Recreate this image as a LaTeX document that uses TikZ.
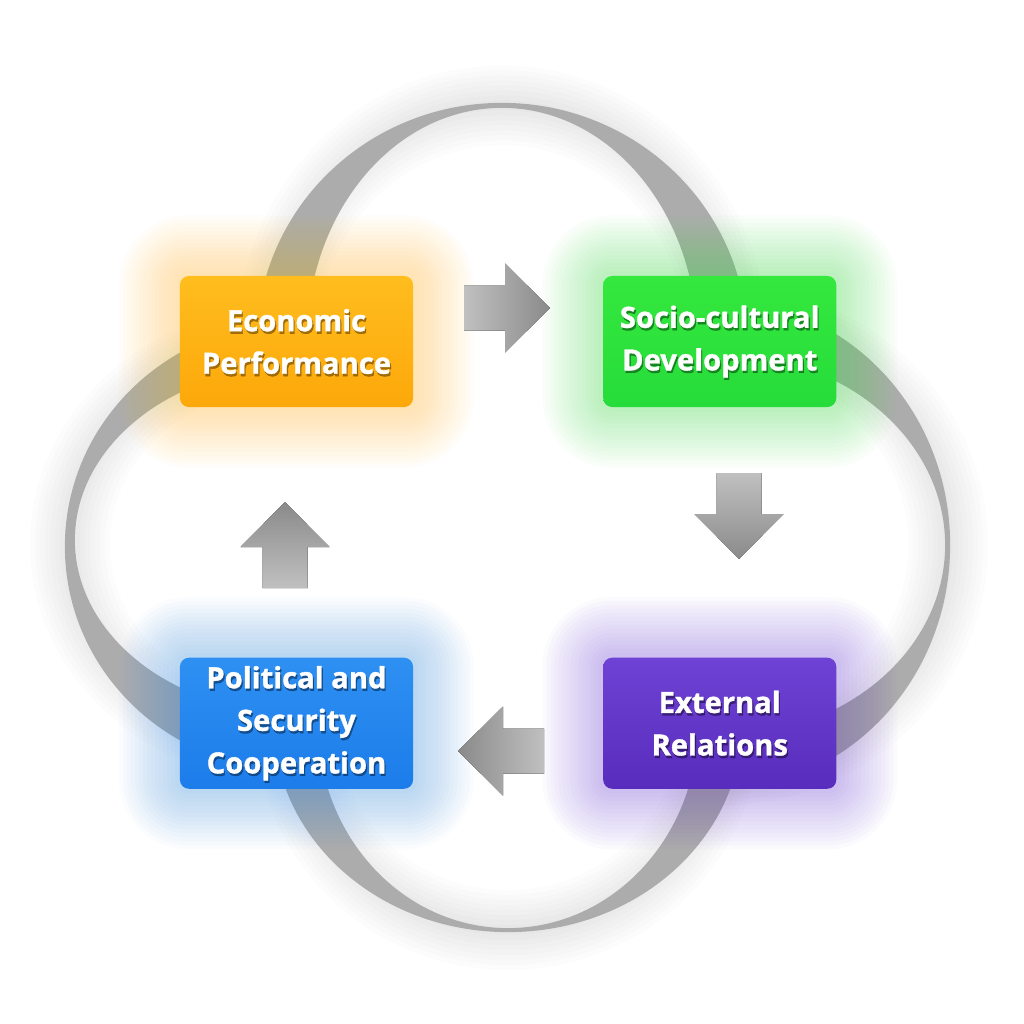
\documentclass[tikz,border=0pt]{standalone}
\usepackage{fontspec}
\setmainfont{Open Sans}[BoldFeatures={FakeBold=1.2}]
\usetikzlibrary{positioning}

\definecolor{econcol}{RGB}{255,189,30}
\definecolor{econdark}{RGB}{253,168,10}
\definecolor{sociocol}{RGB}{52,232,62}
\definecolor{sociodark}{RGB}{38,220,58}
\definecolor{polcol}{RGB}{46,144,242}
\definecolor{poldark}{RGB}{28,124,234}
\definecolor{extcol}{RGB}{110,66,212}
\definecolor{extdark}{RGB}{88,44,188}
\definecolor{ribbongray}{RGB}{172,172,172}
\definecolor{arrowlight}{RGB}{192,192,192}
\definecolor{arrowdark}{RGB}{138,138,138}

\pgfdeclarelayer{back}
\pgfdeclarelayer{glow}
\pgfsetlayers{back,glow,main}

\tikzset{
  stage/.style={rectangle, rounded corners=0.09cm, minimum width=2.33cm,
    minimum height=1.31cm, inner sep=0pt, align=center, text=white,
    font=\bfseries\fontsize{8.3}{12.1}\selectfont},
  shadowed/.style 2 args={path picture={
    \node[inner sep=0pt, align=center, text=#1, opacity=.65,
      font=\bfseries\fontsize{8.3}{12.1}\selectfont]
      at ([shift={(0.012cm,-0.024cm)}]path picture bounding box.center) {#2};}},
  ribbon/.style={fill=ribbongray},
  haze/.style={draw=black, opacity=0.01},
  pics/flowarrow/.style={code={
    \fill[#1] (-41,-22.5) -- (0,-22.5) -- (0,-44.5) -- (45,0) -- (0,44.5)
      -- (0,22.5) -- (-41,22.5) -- cycle;}}
}

\begin{document}
\begin{tikzpicture}[x=0.01cm,y=-0.01cm,node distance=3.815cm and 4.23cm,on grid]
\useasboundingbox (0,0) rectangle (1024,1024);

% the four stages
\node[stage, top color=econcol, bottom color=econdark,
  shadowed={econdark!45!black}{Economic\\Performance}] (econ) at (296.5,341.5)
  {Economic\\Performance};
\node[stage, top color=sociocol, bottom color=sociodark,
  shadowed={sociodark!40!black}{Socio-cultural\\Development}] (socio) [right=of econ]
  {Socio-cultural\\Development};
\node[stage, top color=polcol, bottom color=poldark,
  shadowed={poldark!40!black}{Political and\\Security\\Cooperation}] (polsec) [below=of econ]
  {Political and\\Security\\Cooperation};
\node[stage, top color=extcol, bottom color=extdark,
  shadowed={extdark!40!black}{External\\Relations}] (ext) [below=of socio]
  {External\\Relations};

% ribbons behind the boxes
\begin{pgfonlayer}{back}
  \fill[white] (0,0) rectangle (1024,1024);
  \begin{scope}
    \clip (0,0) rectangle (1024,341.5);
    \foreach \w in {10,20,...,80}
      \draw[haze, line width=\w*0.01cm] (502,341.5) ellipse [x radius=2.25cm, y radius=2.36cm];
    \fill[ribbon, even odd rule]
      (502,341.5) ellipse [x radius=2.45cm, y radius=2.385cm]
      (502,341.5) ellipse [x radius=1.95cm, y radius=2.335cm];
  \end{scope}
  \begin{scope}
    \clip (719.5,0) rectangle (1024,1024);
    \foreach \w in {10,20,...,80}
      \draw[haze, line width=\w*0.01cm] (720,545) ellipse [x radius=2.28cm, y radius=2.2cm];
    \fill[ribbon, even odd rule]
      (720,545) ellipse [x radius=2.30cm, y radius=2.44cm]
      (720,545) ellipse [x radius=2.25cm, y radius=1.91cm];
  \end{scope}
  \begin{scope}
    \clip (0,723) rectangle (1024,1024);
    \foreach \w in {10,20,...,80}
      \draw[haze, line width=\w*0.01cm] (508,723) ellipse [x radius=2.12cm, y radius=2.07cm];
    \fill[ribbon, even odd rule]
      (508,723) ellipse [x radius=2.34cm, y radius=2.09cm]
      (508,723) ellipse [x radius=1.90cm, y radius=2.05cm];
  \end{scope}
  \begin{scope}
    \clip (0,0) rectangle (296.5,1024);
    \foreach \w in {10,20,...,80}
      \draw[haze, line width=\w*0.01cm] (296,544) ellipse [x radius=2.26cm, y radius=2.0cm];
    \fill[ribbon, even odd rule]
      (296,546.5) ellipse [x radius=2.31cm, y radius=2.24cm]
      (296,540) ellipse [x radius=2.21cm, y radius=1.73cm];
  \end{scope}
\end{pgfonlayer}

% soft coloured glow round each box
\begin{pgfonlayer}{glow}
  \foreach \b/\c in {econ/econcol, socio/sociocol, polsec/polcol, ext/extcol}
    \foreach \g in {4,8,...,60}
      \fill[\c, opacity=0.025, rounded corners=\g*0.01cm+0.09cm]
        ([shift={(-\g,-\g)}]\b.north west) rectangle ([shift={(\g,\g)}]\b.south east);
\end{pgfonlayer}

% block arrows between the stages
\pic at (505,308) {flowarrow={left color=arrowlight, right color=arrowdark}};
\pic[rotate=-90] at (739,514) {flowarrow={top color=arrowlight, bottom color=arrowdark}};
\pic[rotate=180] at (503,751) {flowarrow={left color=arrowdark, right color=arrowlight}};
\pic[rotate=90] at (285,547) {flowarrow={top color=arrowdark, bottom color=arrowlight}};
\end{tikzpicture}
\end{document}
